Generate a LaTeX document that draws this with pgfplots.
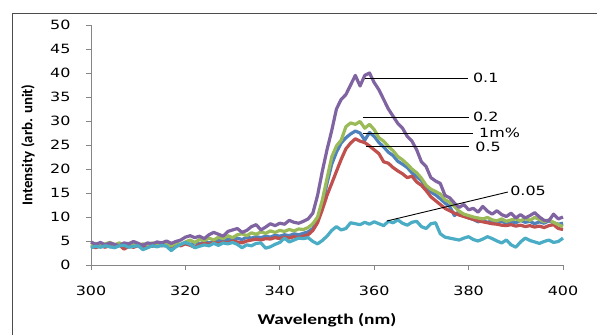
\documentclass[border=0pt]{standalone}
\usepackage{fontspec}
\setmainfont{DejaVu Sans}
\newfontfamily\tickfont[FakeStretch=1.25]{DejaVu Sans}
\newfontfamily\titlefont[FakeStretch=1.3]{Carlito}
\newfontfamily\ytitlefont{Carlito}
\usepackage{pgfplots}
\usepackage{pgfplotstable}
\pgfplotsset{compat=1.18}

\definecolor{sBlue}{HTML}{4F81BD}
\definecolor{sRed}{HTML}{C0504D}
\definecolor{sGreen}{HTML}{9BBB59}
\definecolor{sPurple}{HTML}{8064A2}
\definecolor{sAqua}{HTML}{4BACC6}
\definecolor{axgray}{HTML}{868686}

% PL spectra: wavelength (nm) and intensity for each concentration
\pgfplotstableread{
wl   c1m  c05  c02  c01  c005
300  3.8  3.9  4.2  4.8  3.6
301  4.1  3.6  4.5  4.3  3.9
302  3.9  4.0  4.0  4.7  3.7
303  4.2  3.7  4.4  4.2  4.0
304  3.8  4.1  4.7  4.6  3.8
305  4.0  3.8  4.2  4.3  3.6
306  4.3  4.2  4.6  4.0  4.0
307  3.9  3.3  4.1  4.6  4.1
308  4.1  3.9  4.5  4.4  3.7
309  3.8  3.7  4.3  4.9  3.9
310  4.2  4.0  4.0  4.5  4.0
311  4.0  3.8  4.4  4.1  3.2
312  3.7  4.2  4.2  4.6  3.6
313  4.1  3.9  4.6  4.4  4.0
314  3.9  4.3  4.1  4.8  3.8
315  4.2  4.0  4.5  4.6  4.1
316  4.0  4.2  4.3  5.0  3.9
317  3.8  3.9  4.0  4.5  3.0
318  4.3  4.3  4.6  4.9  3.8
319  4.1  4.0  4.3  5.2  4.3
320  4.5  4.4  4.8  5.8  4.7
321  4.3  4.1  5.2  6.1  4.3
322  4.6  3.7  4.7  5.7  3.6
323  4.4  4.2  5.3  6.0  3.9
324  4.8  4.5  5.1  5.5  4.2
325  4.6  4.3  5.6  6.3  4.0
326  4.9  4.7  5.2  6.8  4.5
327  5.1  4.4  5.8  6.4  4.1
328  5.0  4.8  5.5  6.0  4.6
329  5.4  4.6  6.1  7.0  4.4
330  5.2  5.0  5.7  7.3  4.7
331  5.6  4.8  6.3  7.6  4.3
332  5.3  4.6  6.5  6.8  3.6
333  5.8  5.0  6.1  7.2  4.2
334  5.6  5.2  6.7  8.0  4.0
335  5.9  5.4  6.4  8.4  4.5
336  5.7  5.2  6.9  7.3  4.6
337  6.0  5.5  6.6  7.9  3.5
338  5.8  5.4  7.1  8.6  3.8
339  6.2  5.7  6.8  8.2  4.3
340  6.0  5.5  7.2  8.7  4.7
341  6.3  5.8  7.0  8.5  5.6
342  6.1  5.6  7.4  9.3  4.8
343  6.5  5.9  7.1  8.9  5.2
344  6.3  5.7  7.5  8.7  5.6
345  6.6  6.0  7.4  9.1  5.5
346  6.9  6.3  7.8  9.6  5.7
347  7.6  7.2  8.6  10.8 4.9
348  9.2  8.8  10.0 14.5 4.4
349  12.5 11.5 13.5 19.5 5.1
350  17.0 14.5 18.0 24.0 6.0
351  21.0 17.0 22.5 28.0 7.2
352  23.5 19.5 24.8 32.5 8.0
353  25.4 22.0 26.0 34.5 7.3
354  26.5 24.2 28.8 35.5 7.6
355  27.3 25.4 29.6 37.5 8.8
356  27.9 26.3 29.3 39.5 8.6
357  27.5 25.8 29.9 37.3 8.4
358  26.0 25.5 28.5 39.5 8.9
359  27.6 24.8 29.3 40.0 8.5
360  26.8 24.0 28.2 38.0 9.0
361  25.5 23.2 26.5 36.5 8.6
362  24.6 21.5 25.8 34.5 8.2
363  23.5 21.2 24.7 32.5 9.1
364  22.8 20.3 23.8 31.0 8.8
365  21.6 19.6 22.6 29.5 9.4
366  21.0 19.0 21.9 28.5 8.7
367  20.3 18.2 21.0 26.8 8.3
368  19.2 18.5 20.0 25.8 8.9
369  18.4 17.3 19.2 24.0 9.1
370  17.6 16.6 18.1 21.5 8.0
371  16.0 15.5 16.6 20.5 7.6
372  15.2 14.2 15.8 18.2 8.6
373  14.6 13.4 15.3 17.5 8.8
374  13.8 12.6 14.8 17.0 6.5
375  12.9 11.8 13.6 14.5 5.8
376  12.2 11.3 13.1 14.0 5.6
377  10.3 10.8 12.2 12.9 5.4
378  11.2 10.4 11.2 12.0 5.2
379  10.2 10.1 10.6 12.6 5.6
380  9.8  9.8  10.3 11.5 5.9
381  9.5  9.5  10.0 11.8 5.3
382  9.0  9.2  9.8  11.0 5.0
383  9.3  9.0  9.6  12.2 5.4
384  8.9  8.8  9.9  11.2 5.9
385  9.2  8.6  9.4  10.6 5.5
386  8.8  8.5  9.2  11.3 5.0
387  9.1  8.3  9.6  10.5 4.6
388  8.7  8.2  9.1  10.1 5.2
389  9.0  8.4  9.4  10.8 4.2
390  8.8  8.1  9.6  9.8  3.7
391  9.3  8.3  9.2  10.5 4.8
392  8.9  8.0  9.7  9.8  5.6
393  9.1  8.2  9.3  10.3 5.1
394  8.6  7.9  9.9  10.9 4.8
395  9.0  8.1  9.5  10.0 4.5
396  8.7  7.8  9.0  9.3  4.9
397  9.2  8.2  9.4  9.2  5.2
398  8.8  8.4  8.9  10.6 4.7
399  8.5  7.6  8.4  9.6  4.9
400  8.7  7.4  8.0  10.0 5.6
}\spectra

\begin{document}
\begin{tikzpicture}
\useasboundingbox (0,0) rectangle (597bp,335bp);
% chart area frame
\draw[draw=black!70, line width=1.2bp] (12.5bp,0) -- (12.5bp,321.7bp) -- (597bp,321.7bp);
% vertical axis title
\node[rotate=90, font=\ytitlefont\bfseries\fontsize{15}{17}\selectfont, inner sep=0pt] at (28bp,190bp) {Intensity (arb. unit)};
\begin{axis}[
  at={(91bp,70bp)}, anchor=south west,
  scale only axis, width=472bp, height=240bp,
  xmin=300, xmax=400, ymin=0, ymax=50,
  xtick={300,320,...,400}, ytick={0,5,...,50},
  axis x line*=bottom, axis y line*=left,
  axis line style={draw=axgray, line width=0.9bp},
  tick style={draw=axgray, line width=0.9bp},
  tick align=outside, major tick length=5bp,
  /pgf/number format/assume math mode=true,
  ticklabel style={font=\tickfont\fontsize{12.8}{14}\selectfont, text=black},
  xticklabel style={yshift=-13bp},
  yticklabel style={xshift=-12bp},
  xlabel={Wavelength (nm)},
  xlabel style={font=\titlefont\bfseries\fontsize{15}{17}\selectfont, at={(axis description cs:0.5,0)}, anchor=center, yshift=-55bp},
  every axis plot/.append style={line width=3.2bp, line join=round, no markers},
  clip=false,
]
\addplot[sBlue]   table[x=wl, y=c1m]  {\spectra};
\addplot[sRed]    table[x=wl, y=c05]  {\spectra};
\addplot[sGreen]  table[x=wl, y=c02]  {\spectra};
\addplot[sPurple] table[x=wl, y=c01]  {\spectra};
\addplot[sAqua]   table[x=wl, y=c005] {\spectra};

% leader lines and series labels
\begin{scope}[every node/.style={font=\tickfont\fontsize{12.8}{14}\selectfont, anchor=west, inner sep=0pt}]
\draw[black, line width=0.9bp] (axis cs:358.05,38.96) -- (axis cs:379.9,38.96);
\node at (axis cs:380.9,38.96) {0.1};
\draw[black, line width=0.9bp] (axis cs:357.6,30.8) -- (axis cs:380.1,30.8);
\node at (axis cs:380.9,30.8) {0.2};
\draw[black, line width=0.9bp] (axis cs:357.6,27.5) -- (axis cs:380.9,27.5);
\node at (axis cs:382.2,27.5) {1m\%};
\draw[black, line width=0.9bp] (axis cs:358.3,24.6) -- (axis cs:380.1,24.6);
\node at (axis cs:381.4,24.6) {0.5};
\draw[black, line width=0.9bp] (axis cs:362.7,9.17) -- (axis cs:388.3,15.2);
\node at (axis cs:388.8,15.4) {0.05};
\end{scope}
\end{axis}
\end{tikzpicture}
\end{document}
